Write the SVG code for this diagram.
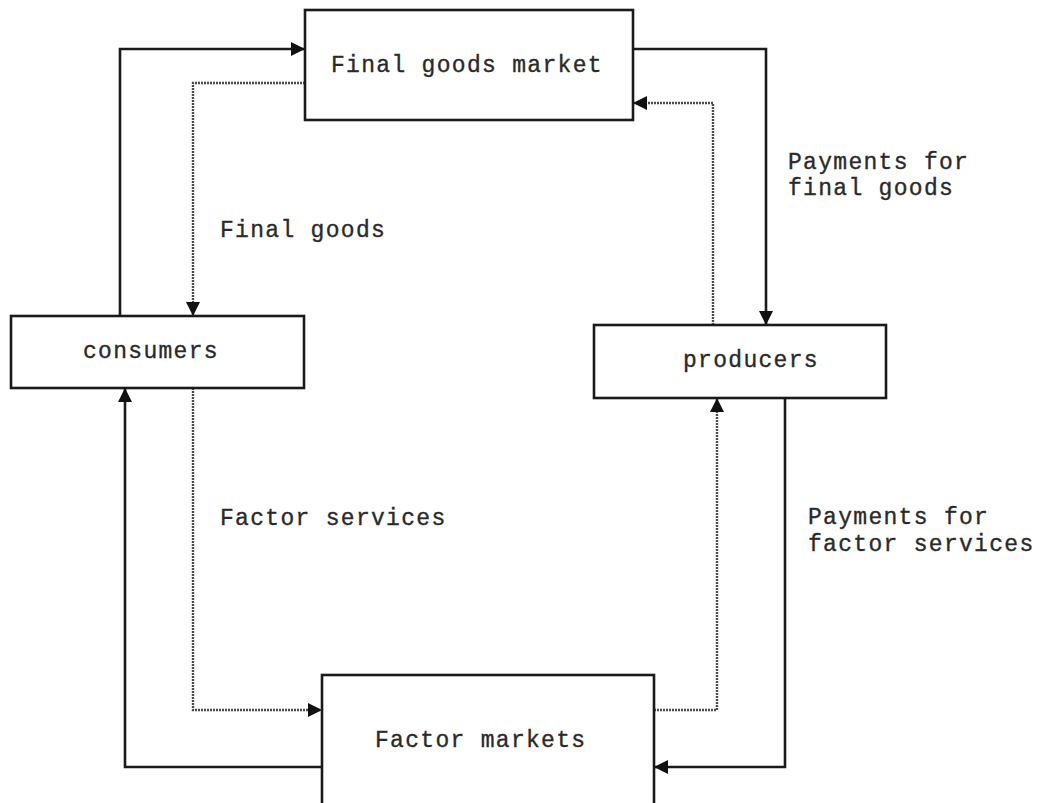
<svg xmlns="http://www.w3.org/2000/svg" width="1038" height="803" viewBox="0 0 1038 803">
<style>
.box{fill:#fff;stroke:#1a1a1a;stroke-width:2.6}
.t{font-family:"Liberation Mono","Courier New",monospace;font-size:23px;letter-spacing:1.3px;fill:#2a2a2a;stroke:#2a2a2a;stroke-width:0.35}
.solid{fill:none;stroke:#1a1a1a;stroke-width:2.6}
.dot{fill:none;stroke:#4a4a4a;stroke-width:2.4;stroke-dasharray:2 1}
</style>
<defs>
<marker id="ah" markerUnits="userSpaceOnUse" markerWidth="15" markerHeight="15" refX="14" refY="7.5" orient="auto" viewBox="0 0 15 15">
<path d="M0,0.5 L14,7.5 L0,14.5 z" fill="#111"/>
</marker>
</defs>
<rect width="1038" height="803" fill="#fff"/>
<g id="connectors">
<path class="solid" d="M120,316 V49 H305" marker-end="url(#ah)"/>
<path class="dot" d="M305,83 H193 V316" marker-end="url(#ah)"/>
<path class="solid" d="M633,49 H766 V325" marker-end="url(#ah)"/>
<path class="dot" d="M713,325 V103 H633" marker-end="url(#ah)"/>
<path class="dot" d="M193,388 V710 H322" marker-end="url(#ah)"/>
<path class="solid" d="M322,767 H125 V388" marker-end="url(#ah)"/>
<path class="dot" d="M654,710 H717 V398" marker-end="url(#ah)"/>
<path class="solid" d="M785,398 V767 H654" marker-end="url(#ah)"/>
</g>
<g id="final-goods-market">
<rect class="box" x="305" y="10" width="328" height="110"/>
<text class="t" x="331" y="72">Final goods market</text>
</g>
<g id="consumers">
<rect class="box" x="11" y="316" width="293" height="72"/>
<text class="t" x="83" y="358">consumers</text>
</g>
<g id="producers">
<rect class="box" x="594" y="325" width="292" height="73"/>
<text class="t" x="683" y="367">producers</text>
</g>
<g id="factor-markets">
<rect class="box" x="322" y="675" width="332" height="130"/>
<text class="t" x="375" y="747">Factor markets</text>
</g>
<g id="labels">
<text class="t" x="220" y="237">Final goods</text>
<text class="t" x="788" y="169">Payments for</text>
<text class="t" x="788" y="195">final goods</text>
<text class="t" x="220" y="525">Factor services</text>
<text class="t" x="808" y="524">Payments for</text>
<text class="t" x="808" y="551">factor services</text>
</g>
</svg>
